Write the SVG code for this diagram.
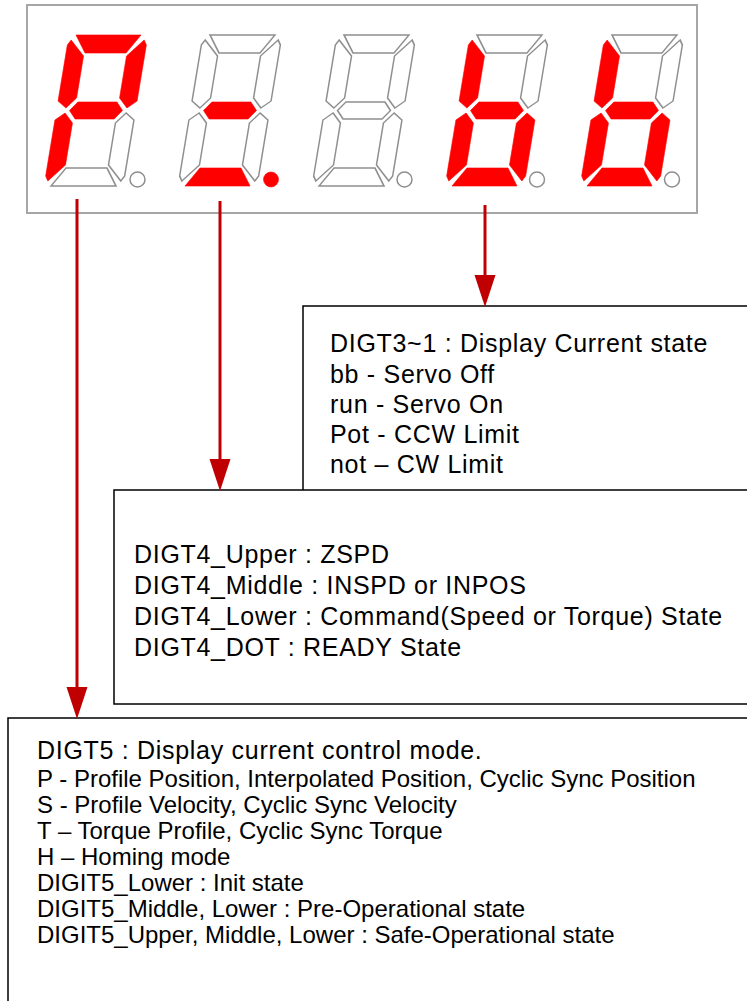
<svg xmlns="http://www.w3.org/2000/svg" width="747" height="1001" viewBox="0 0 747 1001">
<style>
.on{fill:#ff0000;stroke:#ff0000;stroke-width:0.6}
.off{fill:#ffffff;stroke:#8f8f8f;stroke-width:1.5}
.box{fill:#ffffff;stroke:#000000;stroke-width:1.5}
.conn{stroke:#c00000;stroke-width:3;fill:none}
.t1{font-family:"Liberation Sans",Arial,sans-serif;font-size:25px;letter-spacing:0.7px;fill:#000}
.t2{font-family:"Liberation Sans",Arial,sans-serif;font-size:24px;fill:#000}
</style>
<defs>
<polygon id="sa" points="16,0 81,0 69,18 28,18"/>
<polygon id="sb" points="88,10 85,5 70,21 70,63 79,73 88,66"/>
<polygon id="sc" points="88,141 85,146 70,130 70,88 79,78 88,85"/>
<polygon id="sd" points="16,151 81,151 69,133 28,133"/>
<polygon id="se" points="9,141 12,146 27,130 27,88 18,78 9,85"/>
<polygon id="sf" points="9,10 12,5 27,21 27,63 18,73 9,66"/>
<polygon id="sg" points="22,75.5 29,67 68,67 75,75.5 68,84 29,84"/>
<marker id="ah" markerUnits="userSpaceOnUse" markerWidth="32" markerHeight="22" refX="1" refY="10.5" orient="auto" viewBox="0 0 32 21">
<path d="M0,0 L32,10.5 L0,21 z" fill="#c00000"/>
</marker>
</defs>
<g id="panel">
<rect x="27" y="5" width="670" height="208" fill="#ffffff" stroke="#a6a6a6" stroke-width="2"/>
</g>
<g id="digit5">
<g transform="translate(60,35) skewX(-9.4)">
<use href="#sa" class="on"/><use href="#sb" class="on"/><use href="#sc" class="off"/><use href="#sd" class="off"/><use href="#se" class="on"/><use href="#sf" class="on"/><use href="#sg" class="on"/>
</g>
<circle cx="137.5" cy="179.5" r="7.5" class="off"/>
</g>
<g id="digit4">
<g transform="translate(194,35) skewX(-9.4)">
<use href="#sa" class="off"/><use href="#sb" class="off"/><use href="#sc" class="off"/><use href="#sd" class="on"/><use href="#se" class="off"/><use href="#sf" class="off"/><use href="#sg" class="on"/>
</g>
<circle cx="271" cy="179.5" r="7.5" class="on"/>
</g>
<g id="digit3">
<g transform="translate(328,35) skewX(-9.4)">
<use href="#sa" class="off"/><use href="#sb" class="off"/><use href="#sc" class="off"/><use href="#sd" class="off"/><use href="#se" class="off"/><use href="#sf" class="off"/><use href="#sg" class="off"/>
</g>
<circle cx="404.5" cy="179.5" r="7.5" class="off"/>
</g>
<g id="digit2">
<g transform="translate(461,35) skewX(-9.4)">
<use href="#sa" class="off"/><use href="#sb" class="off"/><use href="#sc" class="on"/><use href="#sd" class="on"/><use href="#se" class="on"/><use href="#sf" class="on"/><use href="#sg" class="on"/>
</g>
<circle cx="537" cy="179.5" r="7.5" class="off"/>
</g>
<g id="digit1">
<g transform="translate(596,35) skewX(-9.4)">
<use href="#sa" class="off"/><use href="#sb" class="off"/><use href="#sc" class="on"/><use href="#sd" class="on"/><use href="#se" class="on"/><use href="#sf" class="on"/><use href="#sg" class="on"/>
</g>
<circle cx="672" cy="179.5" r="7.5" class="off"/>
</g>
<g id="box-digit3-1">
<rect x="303" y="306" width="470" height="201" class="box"/>
<text class="t1" x="330" y="352">DIGT3~1 : Display Current state</text>
<text class="t1" x="330" y="383">bb - Servo Off</text>
<text class="t1" x="330" y="413">run - Servo On</text>
<text class="t1" x="330" y="443">Pot - CCW Limit</text>
<text class="t1" x="330" y="473">not – CW Limit</text>
</g>
<g id="box-digit4">
<rect x="114" y="490" width="660" height="214" class="box"/>
<text class="t1" x="134" y="562.5">DIGT4_Upper : ZSPD</text>
<text class="t1" x="134" y="593.5">DIGT4_Middle : INSPD or INPOS</text>
<text class="t1" x="134" y="624.5">DIGT4_Lower : Command(Speed or Torque) State</text>
<text class="t1" x="134" y="655.5">DIGT4_DOT : READY State</text>
</g>
<g id="box-digit5">
<rect x="8" y="718" width="770" height="300" class="box"/>
<text class="t1" x="37" y="759">DIGT5 : Display current control mode.</text>
<text class="t2" x="37" y="787">P - Profile Position, Interpolated Position, Cyclic Sync Position</text>
<text class="t2" x="37" y="813">S - Profile Velocity, Cyclic Sync Velocity</text>
<text class="t2" x="37" y="839">T – Torque Profile, Cyclic Sync Torque</text>
<text class="t2" x="37" y="865">H – Homing mode</text>
<text class="t2" x="37" y="891">DIGIT5_Lower : Init state</text>
<text class="t2" x="37" y="917">DIGIT5_Middle, Lower : Pre-Operational state</text>
<text class="t2" x="37" y="943">DIGIT5_Upper, Middle, Lower : Safe-Operational state</text>
</g>
<g id="connectors">
<line x1="77" y1="199" x2="77" y2="688" class="conn" marker-end="url(#ah)"/>
<line x1="220" y1="201" x2="220" y2="460" class="conn" marker-end="url(#ah)"/>
<line x1="485" y1="205" x2="485" y2="276" class="conn" marker-end="url(#ah)"/>
</g>
</svg>
